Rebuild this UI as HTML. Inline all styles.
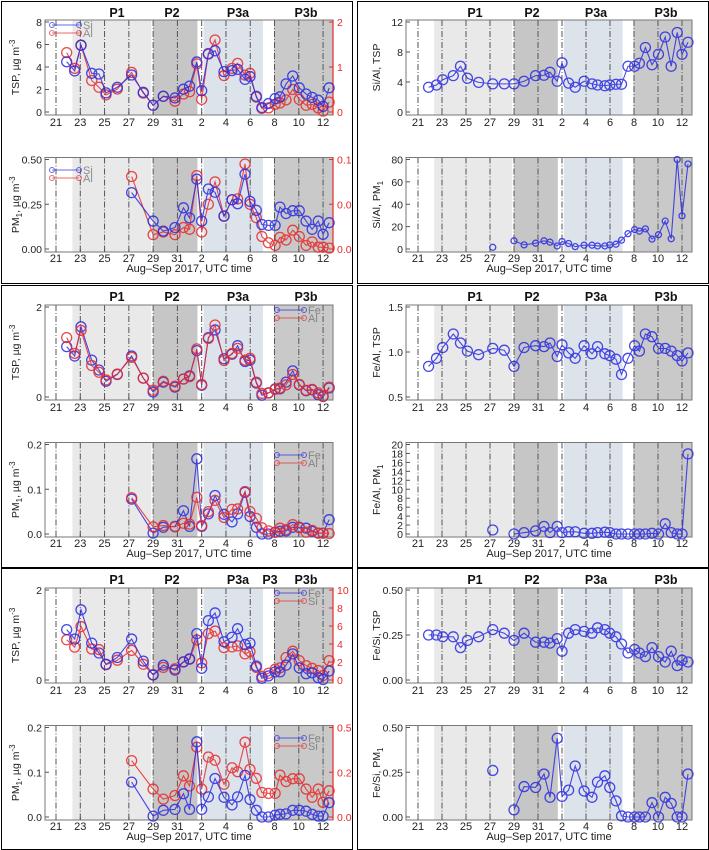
<!DOCTYPE html>
<html><head><meta charset="utf-8"><title>Dust element ratios</title>
<style>
html,body{margin:0;padding:0;background:#fff;}
svg{display:block;font-family:"Liberation Sans",sans-serif;}
</style></head>
<body>
<svg id="fig" width="709" height="850" viewBox="0 0 709 850" xmlns="http://www.w3.org/2000/svg"></svg>
<script>
// ---------- data ----------
const tspDays=[0.88,1.54,2.06,2.94,3.54,4.12,5.05,6.23,7.19,8.0,8.84,9.8,10.5,11.0,11.6,12.0,12.55,13.1,13.84,14.5,14.96,15.57,15.98,16.5,16.96,17.5,18.05,18.45,18.95,19.5,20.04,20.6,21.1,21.6,22.0,22.5];
const pmDays=[6.23,8.0,8.84,9.8,10.5,11.0,11.6,12.0,12.55,13.1,13.84,14.5,14.96,15.57,15.98,16.5,16.96,17.5,18.05,18.45,18.95,19.5,20.04,20.6,21.1,21.6,22.0,22.5];
const siTsp=[4.47,3.65,5.94,3.44,3.38,1.7,2.2,3.29,1.75,0.6,1.4,1.25,2.03,2.3,4.45,1.9,5.15,5.44,3.59,3.68,3.79,2.9,3.15,1.4,0.4,0.75,1.2,1.35,2.5,3.2,2.15,1.6,1.3,1.05,0.5,2.15];
const alTsp=[1.32,0.97,1.48,0.7,0.55,0.38,0.51,0.88,0.42,0.15,0.35,0.24,0.4,0.45,1.07,0.28,1.3,1.6,0.81,0.97,1.08,0.82,0.86,0.33,0.08,0.09,0.17,0.2,0.27,0.5,0.28,0.15,0.17,0.09,0.02,0.22];
const feTsp=[1.12,0.91,1.56,0.82,0.6,0.35,0.5,0.91,0.42,0.11,0.33,0.22,0.4,0.47,1.03,0.26,1.32,1.49,0.85,0.95,1.14,0.79,0.82,0.31,0.04,0.09,0.18,0.18,0.33,0.58,0.27,0.14,0.16,0.05,0.01,0.2];
const siPm=[0.315,0.156,0.1,0.12,0.23,0.174,0.39,0.156,0.335,0.317,0.183,0.275,0.253,0.418,0.266,0.216,0.137,0.132,0.132,0.234,0.198,0.214,0.214,0.156,0.11,0.156,0.082,0.147];
const alPm=[0.081,0.016,0.019,0.016,0.024,0.022,0.082,0.019,0.05,0.075,0.037,0.055,0.056,0.095,0.05,0.035,0.014,0.007,0.004,0.013,0.01,0.021,0.014,0.004,0.008,0.002,0.002,0.001];
const fePm=[0.078,0.002,0.015,0.017,0.052,0.017,0.168,0.017,0.045,0.086,0.044,0.027,0.045,0.093,0.039,0.015,0.0,0.0,0.004,0.006,0.007,0.015,0.015,0.013,0.006,0.002,0.002,0.032];
const siAlTsp=[3.3,3.6,4.3,4.85,6.1,4.5,3.95,3.75,3.75,3.75,4.1,4.85,4.9,5.3,4.1,6.57,3.85,3.3,4.1,3.75,3.6,3.5,3.6,3.7,3.7,6.1,6.1,6.5,8.6,6.3,7.7,10.0,6.1,10.6,7.7,9.3];
const siAlPm=[1.5,7.3,3.7,5.2,7.3,6.1,2.7,6.7,4.9,2.1,3.4,3.4,2.7,2.7,3.7,4.3,7.9,13.7,17.4,15.9,18,8.9,12.8,25,9.2,80,29.6,76];
const feAlTsp=[0.84,0.93,1.05,1.2,1.1,1.01,0.97,1.04,1.02,0.84,1.05,1.07,1.06,1.1,0.95,1.08,0.99,0.93,1.07,0.98,1.06,0.98,0.96,0.92,0.75,0.93,1.07,1.01,1.2,1.17,1.04,1.04,1.01,0.96,0.9,0.99];
const feAlPm=[0.9,0,0.3,0.7,1.7,0.3,1.7,0.3,0.5,0.5,0.15,0.15,0.3,0.4,0.3,0,0,0,0,0,0,0.15,0,2.3,0.3,0,0,17.9];
const feSiTsp=[0.25,0.25,0.24,0.24,0.18,0.22,0.24,0.28,0.26,0.22,0.26,0.21,0.21,0.205,0.23,0.16,0.26,0.28,0.27,0.26,0.29,0.28,0.26,0.24,0.2,0.15,0.17,0.15,0.13,0.18,0.13,0.1,0.16,0.08,0.11,0.1];
const feSiPm=[0.26,0.04,0.17,0.165,0.24,0.11,0.44,0.115,0.15,0.285,0.145,0.11,0.195,0.23,0.165,0.09,0.006,0,0,0,0,0.08,0,0.11,0.076,0,0,0.24];
const xTickDays=[0,2,4,6,8,10,12,14,16,18,20,22];
const xTickLabels=['21','23','25','27','29','31','2','4','6','8','10','12'];

// ---------- drawing ----------
const NS='http://www.w3.org/2000/svg';
const svg=document.getElementById('fig');
const BLUE='#2a2ae0', RED='#e82a2a';
function mk(tag,attrs,parent){const e=document.createElementNS(NS,tag);for(const k in attrs)e.setAttribute(k,attrs[k]);(parent||svg).appendChild(e);return e;}

const defs=mk('defs',{});
[[0,1,282],[1,285,282],[2,568,281]].forEach(p=>{
  [[0,1,351],[1,357,351]].forEach(q=>{
    const cp=mk('clipPath',{id:'clip'+p[0]+'_'+q[0]},defs);
    mk('rect',{x:q[1]+1,y:p[1]+1,width:q[2]-1,height:p[2]-1},cp);
  });
});

function geom(side,pos,oy){
  const g={};
  if(side==='L'){g.xl=45;g.xr=333;g.x0=56;g.dx=12.14;}else{g.xl=406;g.xr=692;g.x0=418;g.dx=12.0;}
  if(pos==='top'){g.yt=oy+22;g.y0=oy+112;g.bt=oy+20;g.bb=oy+115;g.tl=oy+126;}
  else{g.yt=oy+159.5;g.y0=oy+249;g.bt=oy+157.5;g.bb=oy+252;g.tl=oy+262;}
  g.X=d=>g.x0+d*g.dx;
  return g;
}

function drawPlot(c){
  const g=geom(c.side,c.pos,c.oy);
  const grp=mk('g',{'clip-path':`url(#clip${c.pi}_${c.side==='L'?0:1})`});
  
  
  const shades=[[1.35,7.85,'#e9e9e9'],[8.0,11.65,'#c6c6c6'],[12.15,17.05,'#dde3eb'],[17.95,30,'#c9c9c9']];
  shades.forEach(s=>{
    const x1=Math.max(g.X(s[0]),g.xl), x2=Math.min(g.X(s[1]),g.xr);
    const r=mk('rect',{x:x1,y:g.bt,width:x2-x1,height:g.bb-g.bt,fill:s[2]},grp);
    
    
  });
  xTickDays.forEach(d=>{
    const l=mk('line',{x1:g.X(d),x2:g.X(d),y1:g.bt,y2:g.bb,stroke:'#555','stroke-width':1,'stroke-dasharray':'6,2,1,2'},grp);
    
    
  });
  const b=mk('rect',{x:g.xl,y:g.bt,width:g.xr-g.xl,height:g.bb-g.bt,fill:'none',stroke:'#777','stroke-width':1},grp);
  
  
  xTickDays.forEach((d,i)=>{
    mk('line',{x1:g.X(d),x2:g.X(d),y1:g.bb,y2:g.bb-3,stroke:'#555'},grp);
    const t=mk('text',{x:g.X(d),y:g.tl,'font-size':11,'text-anchor':'middle',fill:'#222'},grp);
    t.textContent=xTickLabels[i];
    
    
  });
  const Y=(v,m)=>g.y0-(v/m)*(g.y0-g.yt);
  c.yt.forEach((v,i)=>{
    const y=Y(v,c.ymax);
    mk('line',{x1:g.xl,x2:g.xl+4,y1:y,y2:y,stroke:'#555'},grp);
    const t=mk('text',{x:g.xl-3,y:y+4,'font-size':10.5,'text-anchor':'end',fill:'#222'},grp);
    t.textContent=c.yl[i];
    
    
  });
  if(c.rmax){
    mk('line',{x1:g.xr,x2:g.xr,y1:g.bt,y2:g.bb,stroke:RED,'stroke-width':1.2},grp);
    c.rt.forEach((v,i)=>{
      const y=Y(v,c.rmax);
      mk('line',{x1:g.xr,x2:g.xr-4,y1:y,y2:y,stroke:RED},grp);
      const t=mk('text',{x:g.xr+4,y:y+4,'font-size':10.5,fill:RED},grp);
      t.textContent=c.rl[i];
      
      
    });
  }
  const yx=c.side==='L'?19:380, ym=(g.bt+g.bb)/2;
  const yl=mk('text',{x:yx,y:ym,'font-size':10.5,'text-anchor':'middle',fill:'#222',transform:`rotate(-90 ${yx} ${ym})`},grp);
  yl.innerHTML=c.ylabel;
  
  
  if(c.pos==='bot'){
    const xl=mk('text',{x:(g.xl+g.xr)/2,y:c.oy+272,'font-size':11,'text-anchor':'middle',fill:'#222'},grp);
    xl.textContent='Aug\u2013Sep 2017, UTC time';
    
    
  }
  c.series.forEach(s=>{
    const m=s.right?c.rmax:c.ymax;
    const pts=s.days.map((d,i)=>[g.X(d),Y(s.vals[i],m)]);
    const sg=mk('g',{opacity:0.85},grp);
    
    
    const lp=s.gap?pts.slice(1):pts;
    const pl=mk('polyline',{points:lp.map(p=>p.join(',')).join(' '),fill:'none',stroke:s.color,'stroke-width':1.1},sg);
    
    
    pts.forEach(p=>{
      const ci=mk('circle',{cx:p[0],cy:p[1],r:s.r||5,fill:'none',stroke:s.color,'stroke-width':1.3},sg);
      
      
    });
  });
  if(c.legend){
    c.legend.forEach((e,i)=>{
      const y=c.oy+(c.pos==='top'?25:170)+i*8, lx=c.legX;
      const lg=mk('g',{opacity:0.7},grp);
      
      
      mk('line',{x1:lx,x2:lx+27,y1:y,y2:y,stroke:e[1],'stroke-width':1},lg);
      mk('circle',{cx:lx,cy:y,r:2.5,fill:'none',stroke:e[1]},lg);
      mk('circle',{cx:lx+27,cy:y,r:2.5,fill:'none',stroke:e[1]},lg);
      const t=mk('text',{x:lx+31,y:y+4,'font-size':11,fill:'#666'},lg);
      t.textContent=e[0];
    });
  }
}

const panelsY=[[1,282],[285,282],[568,281]];
panelsY.forEach((p,pi)=>{
  [[1,351],[357,351]].forEach((q,qi)=>{
    const r=mk('rect',{x:q[0]+0.5,y:p[0]+0.5,width:q[1],height:p[1],fill:'none',stroke:'#000','stroke-width':1});
    
    
    const off=qi===0?0:354;
    const oy=p[0]-1;
    const labs=qi===0?[['P1',117],['P2',172],['P3a',238],['P3b',306]]:[['P1',121],['P2',178],['P3a',242],['P3b',312]];
    if(qi===0&&pi===2)labs.push(['P3',270]);
    labs.forEach(l=>{
      const t=mk('text',{x:l[1]+off,y:oy+17,'font-size':12.5,'font-weight':'bold','text-anchor':'middle',fill:'#111'});
      t.textContent=l[0];
      
      
    });
  });
});

const ug='µg m<tspan dy="-4" font-size="8">-3</tspan>';
const pmug='PM<tspan dy="3" font-size="8">1</tspan><tspan dy="-3">, µg m</tspan><tspan dy="-4" font-size="8">-3</tspan>';
drawPlot({pi:0,name:'si-al-tsp-plot',side:'L',pos:'top',oy:0,ymax:8,yt:[0,2,4,6,8],yl:['0','2','4','6','8'],rmax:2,rt:[0,1,2],rl:['0','1','2'],ylabel:'TSP, '+ug,legX:52,legend:[['Si',BLUE],['Al',RED]],
  series:[{name:'al-tsp',days:tspDays,vals:alTsp,color:RED,right:true},{name:'si-tsp',days:tspDays,vals:siTsp,color:BLUE}]});
drawPlot({pi:0,name:'si-al-pm1-plot',side:'L',pos:'bot',oy:0,ymax:0.5,yt:[0,0.25,0.5],yl:['0.00','0.25','0.50'],rmax:0.1,rt:[0,0.05,0.1],rl:['0.0','0.05','0.1'],ylabel:pmug,legX:52,legend:[['Si',BLUE],['Al',RED]],
  series:[{name:'al-pm1',days:pmDays,vals:alPm,color:RED,right:true},{name:'si-pm1',days:pmDays,vals:siPm,color:BLUE}]});
drawPlot({pi:0,name:'si-al-ratio-tsp-plot',side:'R',pos:'top',oy:0,ymax:12,yt:[0,4,8,12],yl:['0','4','8','12'],ylabel:'Si/Al, TSP',
  series:[{name:'si-al-ratio-tsp',days:tspDays,vals:siAlTsp,color:BLUE}]});
drawPlot({pi:0,name:'si-al-ratio-pm1-plot',side:'R',pos:'bot',oy:0,ymax:80,yt:[0,20,40,60,80],yl:['0','20','40','60','80'],ylabel:'Si/Al, PM<tspan dy="3" font-size="8">1</tspan>',
  series:[{name:'si-al-ratio-pm1',days:pmDays,vals:siAlPm,color:BLUE,gap:true,r:3}]});
drawPlot({pi:1,name:'fe-al-tsp-plot',side:'L',pos:'top',oy:285,ymax:2,yt:[0,2],yl:['0','2'],ylabel:'TSP, '+ug,legX:277,legend:[['Fe',BLUE],['Al',RED]],
  series:[{name:'fe-tsp',days:tspDays,vals:feTsp,color:BLUE},{name:'al-tsp-2',days:tspDays,vals:alTsp,color:RED}]});
drawPlot({pi:1,name:'fe-al-pm1-plot',side:'L',pos:'bot',oy:285,ymax:0.2,yt:[0,0.1,0.2],yl:['0.0','0.1','0.2'],ylabel:pmug,legX:277,legend:[['Fe',BLUE],['Al',RED]],
  series:[{name:'fe-pm1',days:pmDays,vals:fePm,color:BLUE},{name:'al-pm1-2',days:pmDays,vals:alPm,color:RED}]});
drawPlot({pi:1,name:'fe-al-ratio-tsp-plot',side:'R',pos:'top',oy:285,ymax:1.0,yt:[0,0.5,1.0],yl:['0.5','1.0','1.5'],ylabel:'Fe/Al, TSP',
  series:[{name:'fe-al-ratio-tsp',days:tspDays,vals:feAlTsp.map(v=>v-0.5),color:BLUE}]});
drawPlot({pi:1,name:'fe-al-ratio-pm1-plot',side:'R',pos:'bot',oy:285,ymax:20,yt:[0,2,4,6,8,10,12,14,16,18,20],yl:['0','2','4','6','8','10','12','14','16','18','20'],ylabel:'Fe/Al, PM<tspan dy="3" font-size="8">1</tspan>',
  series:[{name:'fe-al-ratio-pm1',days:pmDays,vals:feAlPm,color:BLUE,gap:true}]});
drawPlot({pi:2,name:'fe-si-tsp-plot',side:'L',pos:'top',oy:568,ymax:2,yt:[0,2],yl:['0','2'],rmax:10,rt:[0,2,4,6,8,10],rl:['0','2','4','6','8','10'],ylabel:'TSP, '+ug,legX:277,legend:[['Fe',BLUE],['Si',RED]],
  series:[{name:'si-tsp-2',days:tspDays,vals:siTsp,color:RED,right:true},{name:'fe-tsp-2',days:tspDays,vals:feTsp,color:BLUE}]});
drawPlot({pi:2,name:'fe-si-pm1-plot',side:'L',pos:'bot',oy:568,ymax:0.2,yt:[0,0.1,0.2],yl:['0.0','0.1','0.2'],rmax:0.5,rt:[0,0.25,0.5],rl:['0.0','0.25','0.5'],ylabel:pmug,legX:277,legend:[['Fe',BLUE],['Si',RED]],
  series:[{name:'si-pm1-2',days:pmDays,vals:siPm,color:RED,right:true},{name:'fe-pm1-2',days:pmDays,vals:fePm,color:BLUE}]});
drawPlot({pi:2,name:'fe-si-ratio-tsp-plot',side:'R',pos:'top',oy:568,ymax:0.5,yt:[0,0.25,0.5],yl:['0.00','0.25','0.50'],ylabel:'Fe/Si, TSP',
  series:[{name:'fe-si-ratio-tsp',days:tspDays,vals:feSiTsp,color:BLUE}]});
drawPlot({pi:2,name:'fe-si-ratio-pm1-plot',side:'R',pos:'bot',oy:568,ymax:0.5,yt:[0,0.25,0.5],yl:['0.00','0.25','0.50'],ylabel:'Fe/Si, PM<tspan dy="3" font-size="8">1</tspan>',
  series:[{name:'fe-si-ratio-pm1',days:pmDays,vals:feSiPm,color:BLUE,gap:true}]});
</script>
</body></html>
